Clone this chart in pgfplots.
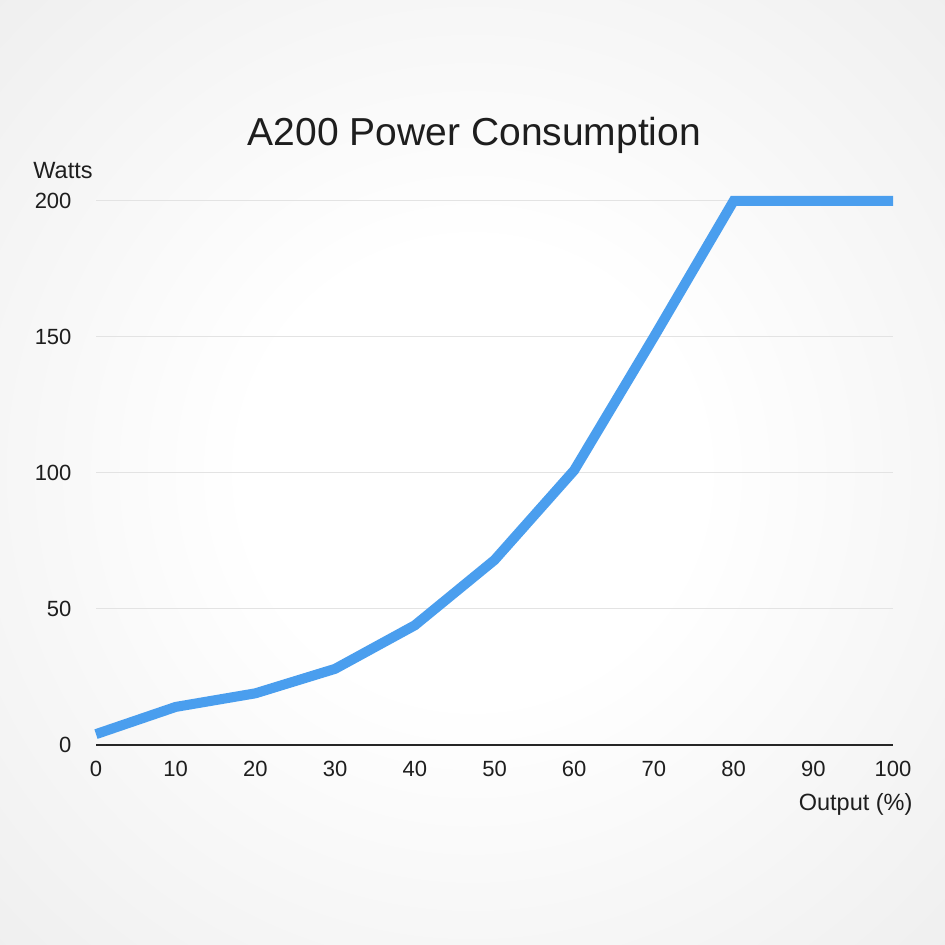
\documentclass[border=0pt]{standalone}
\usepackage{pgfplots}
\pgfplotsset{compat=1.18}
\usepackage{fontspec}
\setmainfont{Liberation Sans}

\definecolor{lineblue}{RGB}{74,158,238}
\definecolor{txt}{RGB}{30,30,30}
\pgfdeclareradialshading{bgshade}{\pgfpoint{0bp}{0bp}}{%
  color(0bp)=(white); color(12bp)=(white); color(50bp)=(black!10)}

\begin{document}
\begin{tikzpicture}
  \useasboundingbox (0pt,0pt) rectangle (945pt,945pt);
  \shade[shading=bgshade] (0pt,0pt) rectangle (945pt,945pt);
  \begin{axis}[
      at={(96pt,200pt)}, anchor=south west,
      width=797pt, height=544pt, scale only axis,
      xmin=0, xmax=100, ymin=0, ymax=200,
      xtick={0,10,...,100}, ytick={0,50,...,200},
      axis x line=bottom, axis y line=left,
      x axis line style={-, line width=2pt, color=black!85},
      y axis line style={draw=none},
      major tick length=0pt,
      ymajorgrids, grid style={color=black!11, line width=1pt},
      clip=false,
      font=\fontsize{22}{24}\selectfont,
      /pgf/number format/assume math mode=true,
      ticklabel style={text=txt},
      yticklabel style={anchor=east, xshift=-21pt},
      xticklabel style={anchor=north, yshift=-13pt},
      title={A200 Power Consumption},
      title style={font=\fontsize{39}{44}\selectfont, text=txt,
        at={(axis description cs:0.5,1)}, anchor=center, xshift=-20pt, yshift=60pt},
      xlabel={Output (\%)},
      xlabel style={font=\fontsize{23.5}{26}\selectfont, text=txt,
        at={(axis description cs:1,0)}, anchor=east, xshift=23pt, yshift=-59pt},
      ylabel={Watts},
      ylabel style={rotate=-90, font=\fontsize{23.5}{26}\selectfont, text=txt,
        at={(axis description cs:0,1)}, anchor=center, xshift=-33pt, yshift=30pt},
    ]
    \addplot[color=lineblue, line width=10pt, mark=none] coordinates {
      (0,4) (10,14) (20,19) (30,28) (40,44) (50,68) (60,101) (70,150) (80,200) (90,200) (100,200)
    };
  \end{axis}
\end{tikzpicture}
\end{document}
